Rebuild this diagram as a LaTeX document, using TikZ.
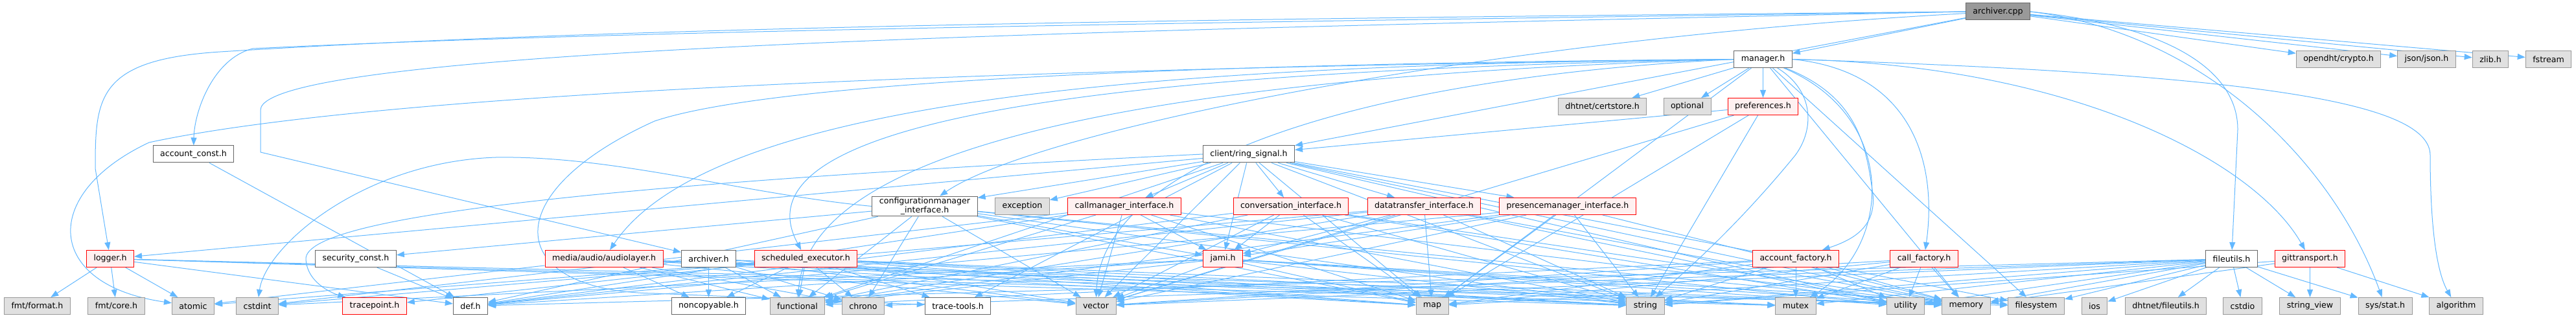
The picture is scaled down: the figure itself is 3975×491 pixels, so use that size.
\documentclass[tikz,border=0pt]{standalone}
\usepackage{fontspec}
\setmainfont{DejaVu Sans}
\usetikzlibrary{arrows.meta,backgrounds}

\definecolor{edgeblue}{HTML}{63B8FF}
\definecolor{sysfill}{HTML}{E0E0E0}
\definecolor{sysline}{HTML}{999999}
\definecolor{hdrline}{HTML}{666666}
\definecolor{truncfill}{HTML}{FFF0F0}
\definecolor{rootfill}{HTML}{999999}

\tikzset{
  hdr/.style={draw=hdrline, fill=white, line width=1bp, minimum height=26bp,
    inner xsep=11bp, inner ysep=2bp, font=\fontsize{12.6bp}{14.3bp}\selectfont},
  sys/.style={hdr, draw=sysline, fill=sysfill},
  trunc/.style={hdr, draw=red, fill=truncfill},
  rootfile/.style={hdr, fill=rootfill},
  inc/.style={draw=edgeblue, line width=1bp, -{Triangle[length=12bp,width=9bp]}}
}

\begin{document}
\begin{tikzpicture}[x=1bp,y=1bp]
\useasboundingbox (0,0) rectangle (3975,-491);

% top rows
\node[rootfile] (archivercpp) at (3083,-18) {archiver.cpp};
\node[hdr] (managerh) at (2720.5,-91.5) {manager.h};
\node[sys] (cryptoh) at (3608.5,-91.5) {opendht/crypto.h};
\node[sys] (jsonh) at (3744.5,-91.5) {json/json.h};
\node[sys] (zlibh) at (3843,-91.5) {zlib.h};
\node[sys] (fstream) at (3932.5,-91.5) {fstream};
\node[sys] (certstoreh) at (2472.5,-164.5) {dhtnet/certstore.h};
\node[sys] (optional) at (2603.5,-164.5) {optional};
\node[trunc] (prefsh) at (2720.5,-164.5) {preferences.h};
\node[hdr] (acctconsth) at (298.5,-238) {account\_const.h};
\node[hdr] (ringsigh) at (1927,-238) {client/ring\_signal.h};

% interface headers
\node[hdr, align=center] (cfgmgrh) at (1427,-318.5) {configurationmanager\\\_interface.h};
\node[sys] (exception) at (1577.5,-318.5) {exception};
\node[trunc] (callmgrh) at (1735,-318.5) {callmanager\_interface.h};
\node[trunc] (convh) at (1992,-318.5) {conversation\_interface.h};
\node[trunc] (dtransferh) at (2197.5,-318.5) {datatransfer\_interface.h};
\node[trunc] (presenceh) at (2419,-318.5) {presencemanager\_interface.h};

% second lowest row
\node[trunc] (loggerh) at (170,-399.5) {logger.h};
\node[hdr] (secconsth) at (549,-399.5) {security\_const.h};
\node[trunc] (audioh) at (932,-399.5) {media/audio/audiolayer.h};
\node[hdr] (archiverh) at (1093.5,-399.5) {archiver.h};
\node[trunc] (schedh) at (1243.5,-399.5) {scheduled\_executor.h};
\node[trunc] (jamih) at (1887,-399.5) {jami.h};
\node[trunc] (acctfacth) at (2771,-399.5) {account\_factory.h};
\node[trunc] (callfacth) at (2969,-399.5) {call\_factory.h};
\node[hdr] (fileutilsh) at (3443.5,-399.5) {fileutils.h};
\node[trunc] (gith) at (3564.5,-399.5) {gittransport.h};

% leaves
\node[sys] (fmtformat) at (57.5,-472.5) {fmt/format.h};
\node[sys] (fmtcore) at (179.5,-472.5) {fmt/core.h};
\node[sys] (atomic) at (298,-472.5) {atomic};
\node[sys] (cstdint) at (397,-472.5) {cstdint};
\node[trunc] (tracepointh) at (578,-472.5) {tracepoint.h};
\node[hdr] (defh) at (726,-472.5) {def.h};
\node[hdr] (noncopyh) at (1093.5,-472.5) {noncopyable.h};
\node[sys] (functional) at (1230.5,-472.5) {functional};
\node[sys] (chrono) at (1332,-472.5) {chrono};
\node[hdr] (tracetoolsh) at (1478,-472.5) {trace-tools.h};
\node[sys] (vector) at (1691,-472.5) {vector};
\node[sys] (map) at (2210,-472.5) {map};
\node[sys] (string) at (2539,-472.5) {string};
\node[sys] (mutex) at (2771,-472.5) {mutex};
\node[sys] (utility) at (2940.5,-472.5) {utility};
\node[sys] (memory) at (3034,-472.5) {memory};
\node[sys] (filesystem) at (3142,-472.5) {filesystem};
\node[sys] (ios) at (3232,-472.5) {ios};
\node[sys] (dhtfileutils) at (3342,-472.5) {dhtnet/fileutils.h};
\node[sys] (cstdio) at (3460.5,-472.5) {cstdio};
\node[sys] (stringview) at (3564.5,-472.5) {string\_view};
\node[sys] (sysstat) at (3680.5,-472.5) {sys/stat.h};
\node[sys] (algorithm) at (3790,-472.5) {algorithm};

\begin{scope}[on background layer]
% archiver.cpp
\foreach \t in {managerh,cryptoh,jsonh,zlibh,fstream,ringsigh}
  \draw[inc] (archivercpp) -- (\t);
\draw[inc] (archivercpp) .. controls (2300,-60) and (1600,-200) .. (cfgmgrh);
\draw[inc] (archivercpp.east) .. controls (3350,-40) and (3453,-110) .. (3453,-200) -- (fileutilsh);
\draw[inc] (archivercpp.east) .. controls (3400,-50) and (3600,-250) .. (sysstat);
\draw[inc] (archivercpp.west) .. controls (2000,-28) and (1000,-38) .. (340,-80)
  .. controls (150,-92) and (147,-150) .. (147,-260) -- (loggerh);
\draw[inc] (archivercpp.west) .. controls (2000,-33) and (1000,-45) .. (390,-75)
  .. controls (330,-90) and (300,-170) .. (acctconsth);
\draw[inc] (archivercpp.west) .. controls (1800,-45) and (402,-70) .. (402,-170)
  -- (402,-235) -- (archiverh);

% manager.h
\foreach \t in {certstoreh,optional,prefsh,map,memory,filesystem}
  \draw[inc] (managerh) -- (\t);
\draw[inc] (managerh.west) .. controls (1800,-100) and (1100,-150) .. (audioh);
\draw[inc] (managerh.west) .. controls (1800,-108) and (1120,-170) .. (schedh);
\draw[inc] (managerh.west) .. controls (1900,-115) and (1250,-200) .. (functional);
\draw[inc] (managerh.west) .. controls (2100,-120) and (1700,-250) .. (vector);
\draw[inc] (managerh) .. controls (2870,-150) and (2880,-230) .. (2890,-300)
  .. controls (2895,-350) and (2860,-370) .. (acctfacth);
\draw[inc] (managerh.east) .. controls (2950,-110) and (2990,-250) .. (callfacth);
\draw[inc] (managerh) .. controls (2930,-180) and (2920,-380) .. (mutex);
\draw[inc] (managerh) .. controls (2800,-140) and (2800,-200) .. (2770,-240)
  .. controls (2680,-350) and (2600,-420) .. (string);
\draw[inc] (managerh.east) .. controls (3200,-100) and (3480,-250) .. (gith);
\draw[inc] (managerh.east) .. controls (3500,-115) and (3750,-160) .. (3750,-240)
  .. controls (3750,-350) and (3760,-420) .. (algorithm);
\draw[inc] (managerh.west) .. controls (1600,-105) and (600,-140) .. (230,-220)
  .. controls (60,-300) and (70,-440) .. (atomic);
\draw[inc] (managerh.west) .. controls (1600,-100) and (1150,-140) .. (1010,-187)
  .. controls (760,-300) and (780,-450) .. (1010,-453) -- (tracetoolsh);

% preferences.h
\foreach \t in {ringsigh,map,string,vector}
  \draw[inc] (prefsh) -- (\t);

% client/ring_signal.h
\foreach \t in {cfgmgrh,callmgrh,convh,dtransferh,presenceh,exception,jamih,loggerh,tracetoolsh,map,string,vector,memory,functional,utility,filesystem}
  \draw[inc] (ringsigh) -- (\t);
\draw[inc] (ringsigh.west) .. controls (1000,-280) and (470,-330) .. (472,-400)
  .. controls (474,-440) and (520,-455) .. (tracepointh);

% interfaces
\foreach \t in {defh,jamih,vector,map,string,memory,functional,chrono,secconsth,utility}
  \draw[inc] (cfgmgrh) -- (\t);
\draw[inc] (cfgmgrh.west) .. controls (1150,-300) and (950,-240) .. (765,-243)
  .. controls (560,-250) and (410,-380) .. (cstdint);
\foreach \t in {defh,jamih,vector,map,string,memory,functional,cstdint}
  \draw[inc] (callmgrh) -- (\t);
\foreach \t in {defh,jamih,vector,map,string,memory,functional,utility}
  \draw[inc] (convh) -- (\t);
\foreach \t in {defh,jamih,vector,map,string,memory,functional,cstdint,utility}
  \draw[inc] (dtransferh) -- (\t);
\foreach \t in {defh,jamih,vector,map,string,memory,functional}
  \draw[inc] (presenceh) -- (\t);

% second lowest row
\foreach \t in {fmtformat,fmtcore,atomic,defh,string,filesystem,mutex}
  \draw[inc] (loggerh) -- (\t);
\draw[inc] (acctconsth) -- (defh);
\draw[inc] (secconsth) -- (defh);
\foreach \t in {atomic,noncopyh,chrono,functional,vector,mutex,memory,string,map}
  \draw[inc] (audioh) -- (\t);
\foreach \t in {noncopyh,functional,chrono,string,vector,map}
  \draw[inc] (archiverh) -- (\t);
\foreach \t in {noncopyh,functional,chrono,tracetoolsh,tracepointh,map,vector,mutex,memory,atomic,string}
  \draw[inc] (schedh) -- (\t);
\foreach \t in {defh,string,vector,map,memory,functional,filesystem,utility,cstdint}
  \draw[inc] (jamih) -- (\t);
\foreach \t in {string,map,mutex,utility,memory,vector,functional}
  \draw[inc] (acctfacth) -- (\t);
\foreach \t in {utility,string,map,mutex,memory,vector}
  \draw[inc] (callfacth) -- (\t);
\foreach \t in {string,vector,map,chrono,mutex,memory,filesystem,ios,dhtfileutils,cstdio,stringview,sysstat,utility,defh}
  \draw[inc] (fileutilsh) -- (\t);
\foreach \t in {stringview,algorithm,string,memory}
  \draw[inc] (gith) -- (\t);
\end{scope}
\end{tikzpicture}
\end{document}
